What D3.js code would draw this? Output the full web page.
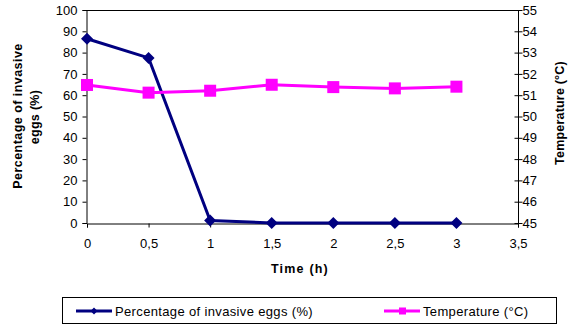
<!DOCTYPE html>
<html>
<head>
<meta charset="utf-8">
<script src="https://cdn.jsdelivr.net/npm/d3@7"></script>
<style>
  body { margin: 0; background: #fff; }
  svg { display: block; font-family: "Liberation Sans", Arial, sans-serif; }
  .tick text { font-size: 13px; fill: #000; }
  .tick line, .domain { stroke: #000; }
</style>
</head>
<body>
<div id="chart"></div>
<script>
// Data
const times = [0, 0.5, 1, 1.5, 2, 2.5, 3];
const invasiveEggs = [86.5, 77.5, 1.2, 0, 0, 0, 0];
const temperature = [51.48, 51.12, 51.21, 51.49, 51.38, 51.32, 51.4];
const xTicks = [0, 0.5, 1, 1.5, 2, 2.5, 3, 3.5];
const leftTicks = [0, 10, 20, 30, 40, 50, 60, 70, 80, 90, 100];
const rightTicks = [45, 46, 47, 48, 49, 50, 51, 52, 53, 54, 55];

const width = 576, height = 328;
const plotLeft = 87, plotRight = 518, plotTop = 10, plotBottom = 223;

const svg = d3.select("#chart")
    .append("svg")
    .attr("width", width)
    .attr("height", height);

const x = d3.scaleLinear().domain([0, 3.5]).range([plotLeft, plotRight]);
const yLeft = d3.scaleLinear().domain([0, 100]).range([plotBottom, plotTop]);
const yRight = d3.scaleLinear().domain([45, 55]).range([plotBottom, plotTop]);

const fmt = d => String(d).replace(".", ",");

// top border of plot area
svg.append("line")
    .attr("x1", plotLeft).attr("x2", plotRight)
    .attr("y1", plotTop + 0.5).attr("y2", plotTop + 0.5)
    .attr("stroke", "#000");

// x axis
svg.append("g")
    .attr("transform", `translate(0,${plotBottom + 0.5})`)
    .call(d3.axisBottom(x).tickValues(xTicks).tickFormat(fmt).tickSize(4).tickPadding(11));

// left axis
svg.append("g")
    .attr("transform", `translate(${plotLeft - 0.5},0)`)
    .call(d3.axisLeft(yLeft).tickValues(leftTicks).tickSize(4).tickPadding(5));

// right axis, ticks crossing
const ra = svg.append("g")
    .attr("transform", `translate(${plotRight + 0.5},0)`)
    .call(d3.axisRight(yRight).tickValues(rightTicks).tickSize(4).tickPadding(0));
ra.selectAll(".tick line").attr("x1", -4);
ra.selectAll(".domain").attr("d", `M0,${plotTop}V${plotBottom}`);

// invasive eggs line
const eggPts = times.map((t, i) => [t, invasiveEggs[i]]);
svg.append("path")
    .datum(eggPts)
    .attr("fill", "none")
    .attr("stroke", "#000080")
    .attr("stroke-width", 3)
    .attr("d", d3.line().x(d => x(d[0])).y(d => yLeft(d[1])));

svg.selectAll(".diamond")
    .data(eggPts)
    .enter()
    .append("path")
    .attr("transform", d => `translate(${x(d[0])},${yLeft(d[1])})`)
    .attr("d", "M0,-6L6,0L0,6L-6,0Z")
    .attr("fill", "#000080");

// temperature line
const tempPts = times.map((t, i) => [t, temperature[i]]);
svg.append("path")
    .datum(tempPts)
    .attr("fill", "none")
    .attr("stroke", "#ff00ff")
    .attr("stroke-width", 3)
    .attr("d", d3.line().x(d => x(d[0])).y(d => yRight(d[1])));

svg.selectAll(".square")
    .data(tempPts)
    .enter()
    .append("rect")
    .attr("x", d => x(d[0]) - 6)
    .attr("y", d => yRight(d[1]) - 6)
    .attr("width", 12)
    .attr("height", 12)
    .attr("fill", "#ff00ff");

// axis titles
svg.append("text")
    .attr("transform", "translate(22,116) rotate(-90)")
    .attr("text-anchor", "middle")
    .style("font-size", "12.5px")
    .style("font-weight", "bold")
    .style("letter-spacing", "0.45px")
    .text("Percentage of invasive");
svg.append("text")
    .attr("transform", "translate(39,117) rotate(-90)")
    .attr("text-anchor", "middle")
    .style("font-size", "12.5px")
    .style("font-weight", "bold")
    .style("letter-spacing", "0.3px")
    .text("eggs (%)");
svg.append("text")
    .attr("transform", "translate(564,113) rotate(-90)")
    .attr("text-anchor", "middle")
    .style("font-size", "12.5px")
    .style("font-weight", "bold")
    .style("letter-spacing", "0.2px")
    .text("Temperature (°C)");
svg.append("text")
    .attr("x", 300)
    .attr("y", 273)
    .attr("text-anchor", "middle")
    .style("font-size", "12.5px")
    .style("font-weight", "bold")
    .style("letter-spacing", "1.2px")
    .text("Time (h)");

// legend
svg.append("rect")
    .attr("x", 62.5).attr("y", 297.5)
    .attr("width", 494).attr("height", 26)
    .attr("fill", "none")
    .attr("stroke", "#000");

const legend = [
    { label: "Percentage of invasive eggs (%)", color: "#000080", marker: "diamond", x: 76 },
    { label: "Temperature (°C)", color: "#ff00ff", marker: "square", x: 384 }
];
legend.forEach(l => {
    const g = svg.append("g").attr("transform", `translate(${l.x},311)`);
    g.append("line").attr("x1", 0).attr("x2", 36).attr("stroke", l.color).attr("stroke-width", 3);
    if (l.marker === "diamond") {
        g.append("path").attr("d", "M18,-3.5L21.5,0L18,3.5L14.5,0Z").attr("fill", l.color);
    } else {
        g.append("rect").attr("x", 15).attr("y", -3.5).attr("width", 7).attr("height", 7).attr("fill", l.color);
    }
    g.append("text")
        .attr("x", 39).attr("y", 5)
        .style("font-size", "13px")
        .style("letter-spacing", "0.35px")
        .text(l.label);
});
</script>
</body>
</html>
